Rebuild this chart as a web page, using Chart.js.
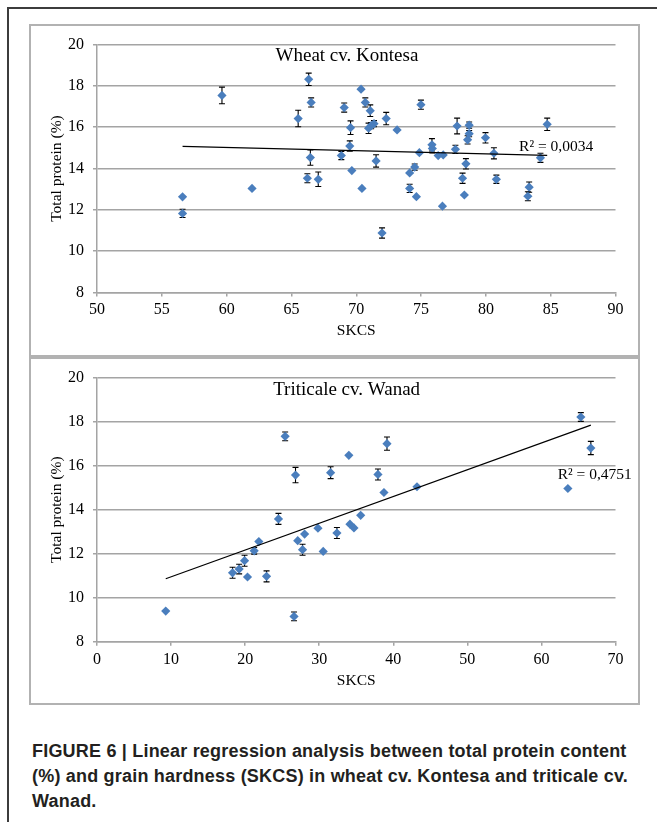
<!DOCTYPE html>
<html>
<head>
<meta charset="utf-8">
<script src="https://cdn.jsdelivr.net/npm/chart.js@4.4.0/dist/chart.umd.min.js"></script>
<style>
  html, body { margin: 0; padding: 0; background: #fff; }
  body { width: 657px; height: 822px; position: relative; overflow: hidden; }
  #frame { position: absolute; left: 7px; top: 7px; width: 700px; height: 900px;
           border-top: 2px solid #3c3c3c; border-left: 2px solid #3c3c3c; }
  .box { position: absolute; left: 29px; width: 607px; border: 2px solid #b2b2b2; }
  #box1 { top: 24px; height: 329px; }
  #box2 { top: 357px; height: 344px; }
  .box canvas { position: absolute; left: 0; top: 0; }
  #caption { position: absolute; left: 32px; top: 739px; font: bold 18px "Liberation Sans", Arial, sans-serif;
             line-height: 25px; color: #231f20; white-space: nowrap; letter-spacing: 0.2px; }
</style>
</head>
<body>
<div id="frame"></div>
<div class="box" id="box1"><canvas id="c1" width="607" height="329"></canvas></div>
<div class="box" id="box2"><canvas id="c2" width="607" height="344"></canvas></div>
<div id="caption">FIGURE 6 | Linear regression analysis between total protein content<br>(%) and grain hardness (SKCS) in wheat cv. Kontesa and triticale cv.<br>Wanad.</div>
<script>
// ---------- Wheat cv. Kontesa ----------
const wheatSKCS = [56.6, 56.6, 59.64, 61.96, 65.52, 66.33, 66.52, 66.46, 66.23, 67.07,
  68.85, 69.07, 69.56, 69.5, 69.66, 70.37, 70.44, 70.7, 71.08, 70.95,
  71.37, 71.15, 71.53, 71.99, 72.31, 73.15, 74.99, 74.87, 74.12, 74.51,
  74.12, 74.64, 75.84, 75.87, 76.32, 76.71, 76.65, 77.65, 77.78, 78.2,
  78.34, 78.46, 78.59, 78.71, 78.71, 79.97, 80.62, 80.81, 83.24, 83.34,
  84.21, 84.73];
const wheatProtein = [12.63, 11.83, 17.54, 13.04, 16.42, 18.32, 17.2, 14.53, 13.53, 13.48,
  14.63, 16.95, 15.98, 15.09, 13.9, 17.84, 13.04, 17.2, 16.8, 15.95,
  16.17, 16.08, 14.37, 10.88, 16.42, 15.87, 17.09, 14.77, 13.79, 14.07,
  13.04, 12.64, 15.15, 14.97, 14.63, 14.66, 12.18, 14.93, 16.06, 13.53,
  12.72, 14.23, 15.39, 15.69, 16.1, 15.49, 14.74, 13.48, 12.66, 13.1,
  14.52, 16.14];
const wheatErr = [0, 0.2, 0.4, 0, 0.4, 0.3, 0.22, 0.37, 0.22, 0.35,
  0.2, 0.22, 0.33, 0.25, 0, 0, 0, 0.22, 0.28, 0.25,
  0.15, 0.15, 0.3, 0.25, 0.3, 0, 0.22, 0, 0, 0.15,
  0.2, 0, 0.3, 0.22, 0, 0, 0, 0.2, 0.38, 0.25,
  0, 0.25, 0.2, 0.15, 0.15, 0.25, 0.27, 0.2, 0.22, 0.25,
  0.22, 0.3];
const wheatTrendX = [56.6, 84.73];
const wheatTrendY = [15.07, 14.64];
const wheatXTicks = [50, 90, 5];
const wheatYTicks = [8, 20, 2];

// ---------- Triticale cv. Wanad ----------
const tritSKCS = [9.28, 18.3, 19.19, 19.92, 20.32, 21.22, 21.85, 22.89, 24.5, 25.4,
  26.8, 26.6, 27.1, 27.75, 28.03, 29.83, 30.54, 31.54, 32.39, 34.0,
  34.15, 34.69, 35.6, 39.15, 37.93, 38.74, 43.2, 65.32, 66.67, 63.57];
const tritProtein = [9.39, 11.13, 11.3, 11.68, 10.94, 12.13, 12.55, 10.97, 13.58, 17.33,
  15.57, 9.15, 12.59, 12.18, 12.89, 13.16, 12.1, 15.68, 12.94, 16.47,
  13.34, 13.17, 13.74, 17.0, 15.6, 14.78, 15.04, 18.21, 16.8, 14.96];
const tritErr = [0, 0.25, 0.22, 0.25, 0, 0.15, 0, 0.25, 0.25, 0.2,
  0.35, 0.2, 0, 0.25, 0, 0, 0, 0.27, 0.25, 0,
  0, 0, 0, 0.3, 0.25, 0, 0, 0.2, 0.3, 0];
const tritTrendX = [9.28, 66.67];
const tritTrendY = [10.86, 17.84];
const tritXTicks = [0, 70, 10];
const tritYTicks = [8, 20, 2];

const SERIF = '"Liberation Serif", "Times New Roman", serif';
const GRID = '#a4a4a4';
const BLUE = '#4a7ebd';

const errorBars = {
  id: 'errorBars',
  beforeDatasetsDraw(chart) {
    const err = chart.options.plugins.errorBars.err;
    const meta = chart.getDatasetMeta(0);
    const ys = chart.scales.y;
    const ctx = chart.ctx;
    ctx.save();
    ctx.strokeStyle = '#000';
    ctx.lineWidth = 1.1;
    meta.data.forEach((pt, i) => {
      const e = err[i];
      if (!e) return;
      const v = chart.data.datasets[0].data[i].y;
      const t = ys.getPixelForValue(v + e);
      const b = ys.getPixelForValue(v - e);
      ctx.beginPath();
      ctx.moveTo(pt.x, t); ctx.lineTo(pt.x, b);
      ctx.moveTo(pt.x - 3, t); ctx.lineTo(pt.x + 3, t);
      ctx.moveTo(pt.x - 3, b); ctx.lineTo(pt.x + 3, b);
      ctx.stroke();
    });
    ctx.restore();
  }
};

const labels = {
  id: 'labels',
  afterDraw(chart) {
    const o = chart.options.plugins.labels;
    const ctx = chart.ctx;
    const xs = chart.scales.x, ys = chart.scales.y;
    ctx.save();
    ctx.fillStyle = '#000';
    ctx.textBaseline = 'middle';
    ctx.font = '19px ' + SERIF;
    ctx.textAlign = 'center';
    ctx.fillText(o.title, xs.getPixelForValue(o.titleAt[0]), ys.getPixelForValue(o.titleAt[1]));
    ctx.font = '15.5px ' + SERIF;
    ctx.textAlign = 'left';
    ctx.fillText(o.r2, xs.getPixelForValue(o.r2At[0]), ys.getPixelForValue(o.r2At[1]));
    ctx.restore();
  }
};

function makeChart(id, xs, ys, err, trendX, trendY, xt, yt, axisH, padTop, titleBottomPad, title, titleAt, r2, r2At) {
  const pts = xs.map((x, i) => ({ x: x, y: ys[i] }));
  const trend = trendX.map((x, i) => ({ x: x, y: trendY[i] }));
  return new Chart(document.getElementById(id), {
    type: 'scatter',
    data: {
      datasets: [
        { data: pts, pointStyle: 'rectRot', pointRadius: 4.6, pointBorderWidth: 0,
          backgroundColor: BLUE, borderColor: BLUE, order: 1 },
        { data: trend, type: 'line', showLine: true, pointRadius: 0, borderColor: '#000',
          borderWidth: 1.2, fill: false, order: 0 }
      ]
    },
    options: {
      responsive: false, animation: false, devicePixelRatio: 1,
      layout: { padding: { left: 0, right: 22.5, top: padTop, bottom: 0 } },
      plugins: {
        legend: { display: false }, tooltip: { enabled: false },
        errorBars: { err: err },
        labels: { title: title, titleAt: titleAt, r2: r2, r2At: r2At }
      },
      scales: {
        x: {
          type: 'linear', min: xt[0], max: xt[1],
          ticks: { stepSize: xt[2], color: '#000', font: { family: SERIF, size: 16 }, padding: 4 },
          grid: { drawOnChartArea: false, drawTicks: true, tickLength: 4, color: GRID, lineWidth: 1.5 },
          border: { color: GRID, width: 1.5 },
          title: { display: true, text: 'SKCS', color: '#000', font: { family: SERIF, size: 15.5 },
                   padding: { top: 0, bottom: titleBottomPad } },
          afterFit: s => { s.height = axisH; }
        },
        y: {
          type: 'linear', min: yt[0], max: yt[1],
          ticks: { stepSize: yt[2], color: '#000', font: { family: SERIF, size: 16 }, padding: 9 },
          grid: { color: GRID, lineWidth: 1.5, tickLength: 4 },
          border: { color: GRID, width: 1.5 },
          title: { display: true, text: 'Total protein (%)', color: '#000', font: { family: SERIF, size: 15.5 },
                   padding: { top: 17, bottom: 0 } },
          afterFit: s => { s.width = 66; }
        }
      }
    },
    plugins: [errorBars, labels]
  });
}

makeChart('c1', wheatSKCS, wheatProtein, wheatErr, wheatTrendX, wheatTrendY, wheatXTicks, wheatYTicks,
  62.5, 14.7, 14.3, 'Wheat cv. Kontesa', [69.28, 19.45], 'R² = 0,0034', [82.56, 15.03]);
makeChart('c2', tritSKCS, tritProtein, tritErr, tritTrendX, tritTrendY, tritXTicks, tritYTicks,
  61.3, 14.3, 13, 'Triticale cv. Wanad', [33.7, 19.43], 'R² = 0,4751', [62.2, 15.56]);
</script>
</body>
</html>
